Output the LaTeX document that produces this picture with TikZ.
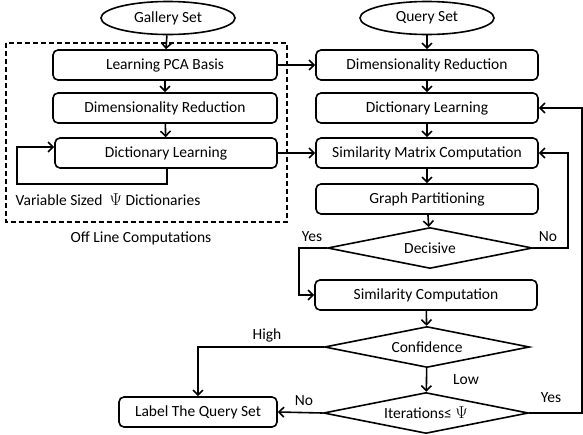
\documentclass[tikz,border=0pt]{standalone}
\usepackage{fontspec}
\setmainfont{Carlito}
\usetikzlibrary{shapes.geometric,arrows.meta}
\newcommand{\bigpsi}{{\fontsize{18}{18}\selectfont$\Psi$}}
\begin{document}
\begin{tikzpicture}[x=1pt,y=-1pt,
  every node/.style={font=\fontsize{15.5}{17}\selectfont},
  box/.style={draw, rounded corners=5pt, line width=1.6pt, minimum width=222pt, minimum height=30pt, inner sep=0pt},
  term/.style={draw, ellipse, line width=1.6pt, minimum width=134pt, minimum height=33pt, inner sep=0pt},
  dec/.style={draw, diamond, aspect=5, line width=1.6pt, minimum width=205pt, minimum height=41pt, inner sep=0pt},
  conn/.style={line width=1.6pt, -{Straight Barb[length=5pt,width=10pt,line width=1.6pt]}},
  lbl/.style={inner sep=0pt}]
\useasboundingbox (0,0) rectangle (583,434);
% left column
\node[term] (gs) at (168,18) {Gallery Set};
\node[box, minimum width=224pt] (pca) at (165,65) {Learning PCA Basis};
\node[box, minimum width=224pt] (dr1) at (165,108) {Dimensionality Reduction};
\node[box, minimum width=222pt] (dl1) at (166,153) {Dictionary Learning};
\draw[line width=1.2pt, dash pattern=on 5pt off 3pt] (6,43) rectangle (287,222);
\node[lbl] (vs) at (108,200) {Variable Sized ~\bigpsi{} Dictionaries};
\node[lbl] (off) at (141,238) {Off Line Computations};
\coordinate (l1) at (167,184);
\coordinate (l2) at (17,184);
\coordinate (l3) at (17,147);
\draw[conn] (dl1.south -| l1) -- (l1) -- (l2) -- (l3) -- (l3 -| dl1.west);
\draw[conn] (gs) -- (pca);
\draw[conn] (pca) -- (dr1);
\draw[conn] (dr1) -- (dl1);
% right column
\node[term] (qs) at (427,18) {Query Set};
\node[box] (dr2) at (427,65) {Dimensionality Reduction};
\node[box] (dl2) at (427,108) {Dictionary Learning};
\node[box] (smc) at (427,153) {Similarity Matrix Computation};
\node[box] (gp) at (427,199) {Graph Partitioning};
\node[dec] (dc) at (430,248) {Decisive};
\node[box] (sc) at (426,295) {Similarity Computation};
\node[dec] (cf) at (427,347) {Confidence};
\node[dec] (it) at (426,413) {Iterations≤ \bigpsi};
\node[box, minimum width=158pt] (lq) at (198,412) {Label The Query Set};
\draw[conn] (qs) -- (dr2);
\draw[conn] (dr2) -- (dl2);
\draw[conn] (dl2) -- (smc);
\draw[conn] (smc) -- (gp);
\draw[conn] (gp) -- (dc);
\draw[conn] (sc) -- (cf);
\draw[conn] (cf) -- (it);
\draw[conn] (pca.east) -- (dr2.west);
\draw[conn] (dl1.east) -- (smc.west);
\coordinate (y1) at (299,248);
\draw[conn] (dc.west) -- (y1) -- (y1 |- sc.west) -- (sc.west);
\coordinate (n1) at (568,248);
\draw[conn] (dc.east) -- (n1) -- (n1 |- smc.east) -- (smc.east);
\coordinate (h1) at (198,347);
\draw[conn] (cf.west) -- (h1) -- (lq.north);
\draw[conn] (it.west) -- (lq.east);
\coordinate (r1) at (582,413);
\draw[conn] (it.east) -- (r1) -- (r1 |- dl2.east) -- (dl2.east);
% labels
\node[lbl] (yes1) at (312,237) {Yes};
\node[lbl] (no1) at (548,237) {No};
\node[lbl] (high) at (267,335) {High};
\node[lbl] (low) at (466,380) {Low};
\node[lbl] (no2) at (304,401) {No};
\node[lbl] (yes2) at (551,398) {Yes};
\end{tikzpicture}
\end{document}
